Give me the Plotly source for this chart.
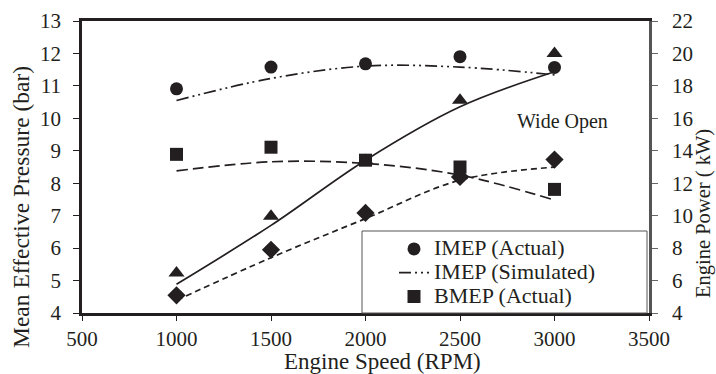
import plotly.graph_objects as go

# Engine speed sweep (RPM)
speed = [1000, 1500, 2000, 2500, 3000]

# Mean effective pressure (bar)
imep_actual = [10.91, 11.58, 11.68, 11.90, 11.57]
imep_simulated = [10.55, 11.23, 11.61, 11.58, 11.34]
bmep_actual = [8.89, 9.11, 8.71, 8.50, 7.81]
bmep_simulated = [8.38, 8.66, 8.61, 8.25, 7.48]

# Engine power (kW)
power_actual = [6.46, 9.96, 13.40, 17.12, 20.00]
power_simulated = [5.77, 9.40, 13.42, 16.71, 18.87]
power2_actual = [5.09, 7.90, 10.17, 12.39, 13.46]
power2_simulated = [4.78, 7.41, 9.82, 12.19, 12.99]

x_ticks = [500, 1000, 1500, 2000, 2500, 3000, 3500]
left_ticks = list(range(4, 14))
right_ticks = list(range(4, 23, 2))

FONT = "Liberation Serif, Times New Roman, serif"
INK = "#231f20"

W, H = 716, 374
ML, MR, MT, MB = 82, 67, 21, 61
PW, PH = W - ML - MR, H - MT - MB


def px_to_paper(px, py):
    return (px - ML) / PW, (H - MB - py) / PH


def legend_name(text):
    # larger glyphs on a compact legend row pitch
    return f'<span style="font-size:22px">{text}</span>'


fig = go.Figure()

# power curves on the right axis
fig.add_trace(go.Scatter(x=speed, y=power_simulated, mode="lines", yaxis="y2",
                         line=dict(color=INK, width=1.7, shape="spline"), showlegend=False))
fig.add_trace(go.Scatter(x=speed, y=power2_simulated, mode="lines", yaxis="y2",
                         line=dict(color=INK, width=1.7, dash="6px,4px", shape="spline"),
                         showlegend=False))
fig.add_trace(go.Scatter(x=speed, y=power_actual, mode="markers", yaxis="y2",
                         marker=dict(symbol="triangle-up", size=14, color=INK),
                         showlegend=False))
fig.add_trace(go.Scatter(x=speed, y=power2_actual, mode="markers", yaxis="y2",
                         marker=dict(symbol="diamond", size=14, color=INK),
                         showlegend=False))

# pressure curves on the left axis
fig.add_trace(go.Scatter(x=speed, y=bmep_simulated, mode="lines",
                         line=dict(color=INK, width=1.7, dash="11px,5px", shape="spline"),
                         showlegend=False))
fig.add_trace(go.Scatter(x=speed, y=imep_actual, mode="markers",
                         name=legend_name("IMEP (Actual)"),
                         marker=dict(symbol="circle", size=13, color=INK)))
fig.add_trace(go.Scatter(x=speed, y=imep_simulated, mode="lines",
                         name=legend_name("IMEP (Simulated)"),
                         line=dict(color=INK, width=1.7, dash="12px,4px,2px,4px,2px,4px",
                                   shape="spline")))
fig.add_trace(go.Scatter(x=speed, y=bmep_actual, mode="markers",
                         name=legend_name("BMEP (Actual)"),
                         marker=dict(symbol="square", size=13, color=INK)))

fig.add_annotation(x=3040, y=9.9, xref="x", yref="y", text="Wide Open",
                   showarrow=False, font=dict(family=FONT, size=20, color=INK))

# axis titles
for text, (px, py), angle, size in [("Engine Speed (RPM)", (382, 361), 0, 23),
                                    ("Mean Effective Pressure (bar)", (21, 207), -90, 23.5),
                                    ("Engine Power ( kW)", (703, 214), -90, 20.5)]:
    ax, ay = px_to_paper(px, py)
    fig.add_annotation(x=ax, y=ay, xref="paper", yref="paper", text=text,
                       textangle=angle, xanchor="center", yanchor="middle",
                       showarrow=False, font=dict(size=size))

# legend frame
x0, y1 = px_to_paper(362, 231)
x1, y0 = px_to_paper(647, 313)
fig.add_shape(type="rect", xref="paper", yref="paper", x0=x0, x1=x1, y0=y0, y1=y1,
              line=dict(color="#555", width=1), layer="above")

lx, ly = px_to_paper(394, 232)

fig.update_layout(
    width=W, height=H,
    margin=dict(l=ML, r=MR, t=MT, b=MB, autoexpand=False),
    paper_bgcolor="white", plot_bgcolor="white",
    font=dict(family=FONT, size=21, color=INK),
    xaxis=dict(range=[500, 3500], tickvals=x_ticks, ticks="outside", ticklen=5,
               tickcolor=INK, showgrid=False, zeroline=False, showline=True,
               linecolor=INK, linewidth=2.5, mirror=True, ticklabelstandoff=0,
               automargin=False),
    yaxis=dict(range=[4, 13], tickvals=left_ticks, ticks="outside", ticklen=6,
               tickcolor=INK, showgrid=False, zeroline=False, showline=True,
               linecolor=INK, linewidth=2.5, ticklabelstandoff=8, automargin=False),
    yaxis2=dict(range=[4, 22], tickvals=right_ticks, overlaying="y", side="right",
                ticks="outside", ticklen=6, tickcolor="#666", showgrid=False,
                zeroline=False, showline=True, linecolor="#555", linewidth=2.5,
                ticklabelstandoff=10, automargin=False),
    legend=dict(x=lx, y=ly, xanchor="left", yanchor="top",
                bgcolor="rgba(0,0,0,0)", borderwidth=0, tracegroupgap=0,
                font=dict(size=16), itemwidth=30),
)

fig.write_html("out.html")
